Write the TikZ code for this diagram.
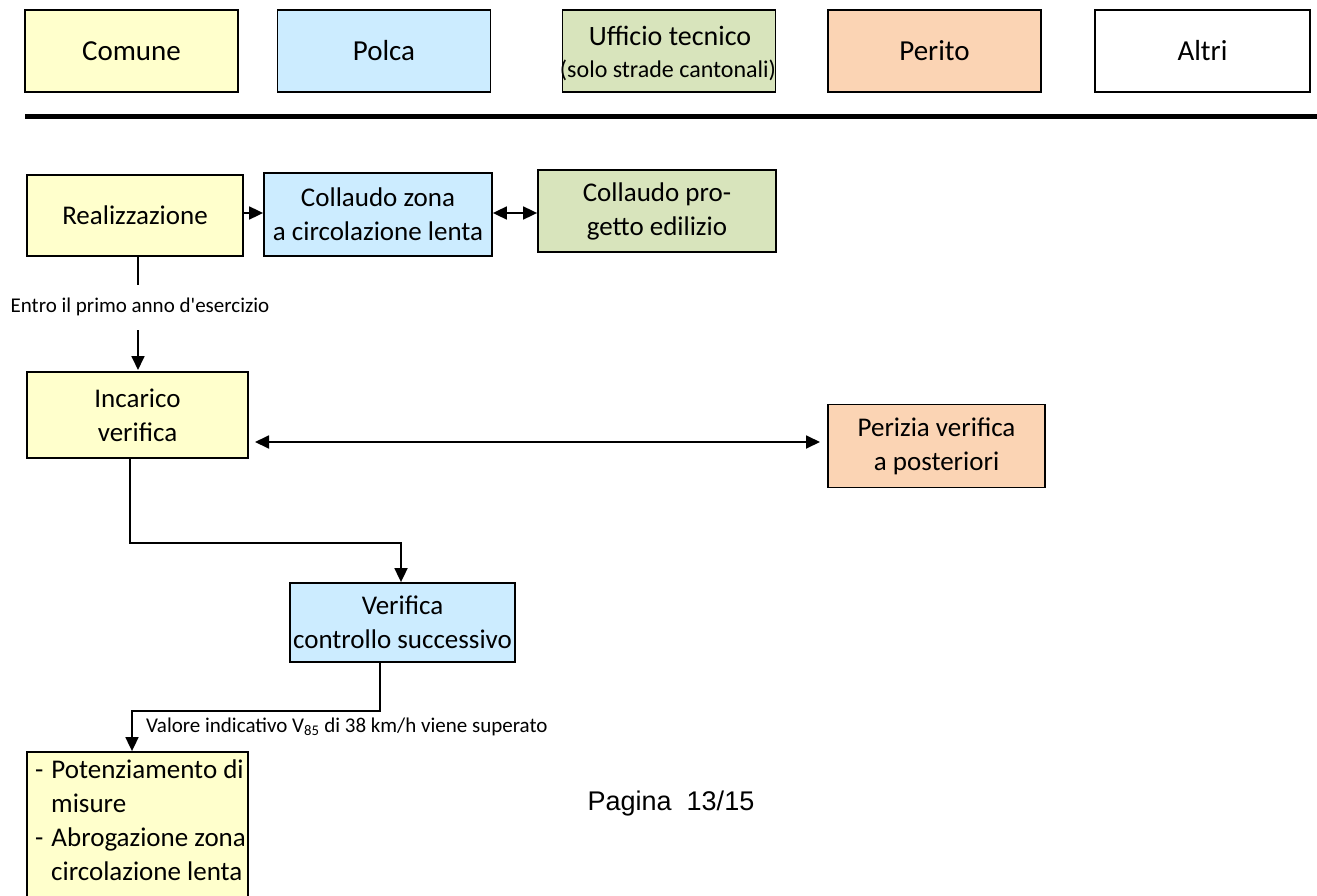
\documentclass[tikz,border=0pt]{standalone}
\usepackage{fontspec}
\setmainfont{Carlito}
\newfontfamily\arialfont{Liberation Sans}
\usetikzlibrary{arrows.meta}
\definecolor{cyel}{HTML}{FFFFCC}
\definecolor{cblu}{HTML}{CCECFF}
\definecolor{cgrn}{HTML}{D8E4BC}
\definecolor{cora}{HTML}{FBD4B4}
\tikzset{
  x=1pt, y=-1pt,
  hdr/.style={draw=black, line width=1.8pt, inner sep=0pt, minimum width=213pt, minimum height=82pt, align=center, font=\fontsize{29}{34}\selectfont},
  box/.style={draw=black, line width=1.8pt, inner sep=0pt, align=center, font=\fontsize{27}{34}\selectfont},
  conn/.style={line width=1.8pt},
  arr/.style={conn, -{Triangle[length=14pt,width=13pt]}},
  darr/.style={conn, {Triangle[length=14pt,width=13pt]}-{Triangle[length=14pt,width=13pt]}},
  lbl/.style={inner sep=0pt, font=\fontsize{21}{24}\selectfont}
}
\begin{document}
\begin{tikzpicture}
\useasboundingbox (0,0) rectangle (1317,896);
% header
\node[hdr, fill=cyel] (hcom) at (131.5,51) {Comune};
\node[hdr, fill=cblu] (hpol) at (384,51) {Polca};
\node[hdr, fill=cgrn] (huff) at (669,51) {};
\node[inner sep=0pt, font=\fontsize{28}{32}\selectfont] (huff1) at (670,36) {Ufficio tecnico};
\node[inner sep=0pt, font=\fontsize{24}{26}\selectfont] (huff2) at (668,70) {(solo strade cantonali)};
\node[hdr, fill=cora] (hper) at (934.5,51) {Perito};
\node[hdr, fill=white, minimum width=215pt] (halt) at (1202.5,51) {Altri};
\coordinate (hl1) at (25,117);
\coordinate (hl2) at (1317,117);
\draw[line width=5pt] (hl1) -- (hl2);
% row 1
\node[box, fill=cyel, minimum width=216pt, minimum height=81pt] (real) at (135,215.5) {Realizzazione};
\node[box, fill=cblu, minimum width=228pt, minimum height=83pt] (coll) at (378,214.5) {Collaudo zona\\a circolazione lenta};
\node[box, fill=cgrn, minimum width=238pt, minimum height=82pt] (prog) at (657,211) {Collaudo pro-\\getto edilizio};
\draw[arr] (real.east |- 0,213) -- (coll.west |- 0,213);
\draw[darr] (coll.east |- 0,213) -- (prog.west |- 0,213);
\coordinate (c1) at (138,285);
\draw[conn] (real.south -| c1) -- (c1);
\node[lbl] (l1) at (140,307) {Entro il primo anno d\textquotesingle esercizio};
% row 2
\node[box, fill=cyel, minimum width=221pt, minimum height=86pt] (inc) at (137.5,415) {Incarico\\verifica};
\node[box, fill=cora, minimum width=217pt, minimum height=83pt] (per) at (936.5,446) {Perizia verifica\\a posteriori};
\coordinate (c2) at (138,330);
\draw[arr] (c2) -- (c2 |- 0,370);
\coordinate (d1) at (255,442);
\coordinate (d2) at (820,442);
\draw[darr] (d1) -- (d2);
% row 3
\node[box, fill=cblu, minimum width=225pt, minimum height=79pt] (ver) at (402.5,622.5) {Verifica\\controllo successivo};
\coordinate (e1) at (130,543);
\coordinate (e2) at (401,543);
\draw[arr] (inc.south -| e1) -- (e1) -- (e2) -- (e2 |- ver.north);
% row 4
\node[draw=black, line width=1.8pt, fill=cyel, minimum width=221pt, minimum height=150pt, inner sep=0pt] (fin) at (137.5,827) {};
\node[anchor=north west, inner sep=0pt, align=left, font=\fontsize{27}{34}\selectfont] (fint) at (35,760) {-\hspace{8pt}Potenziamento di\\\hspace{16pt}misure\\-\hspace{8pt}Abrogazione zona\\\hspace{16pt}circolazione lenta};
\coordinate (f1) at (380,711);
\coordinate (f2) at (132,711);
\draw[arr] (ver.south -| f1) -- (f1) -- (f2) -- (f2 |- fin.north);
\node[lbl, anchor=west] (l2) at (146,727) {Valore indicativo V\textsubscript{85} di 38 km/h viene superato};
\node[inner sep=0pt, font=\arialfont\fontsize{27}{30}\selectfont] (pag) at (671,804) {Pagina\ \ 13/15};
\end{tikzpicture}
\end{document}
